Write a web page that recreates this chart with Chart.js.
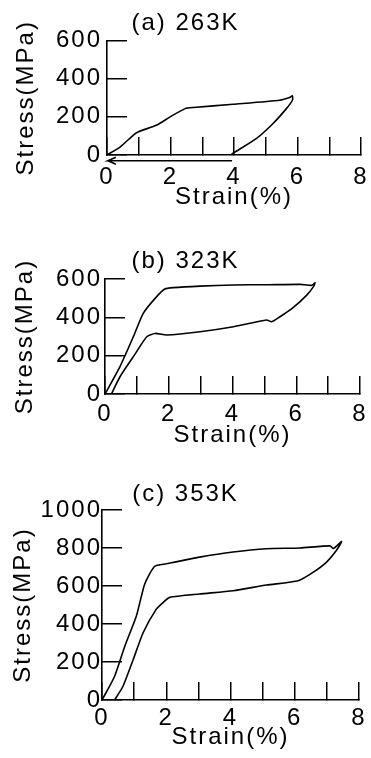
<!DOCTYPE html>
<html>
<head>
<meta charset="utf-8">
<script src="https://cdn.jsdelivr.net/npm/chart.js@4"></script>
<style>
  html, body { margin: 0; padding: 0; background: #fff; }
  .panel { position: absolute; left: 0; width: 371px; }
</style>
</head>
<body>
<div class="panel" style="top:0;height:213px"><canvas id="chartA"></canvas></div>
<div class="panel" style="top:220px;height:231px"><canvas id="chartB"></canvas></div>
<div class="panel" style="top:460px;height:293px"><canvas id="chartC"></canvas></div>
<script>
// (a) 263K
var strainA = [0, 0.42, 0.84, 0.99, 1.57, 1.99, 2.46, 2.72, 3.97, 5.44, 5.75, 5.84, 5.84, 5.65, 5.23, 4.71, 3.97, 3.92];
var stressA = [0, 43, 106, 122, 157, 200, 243, 249, 266, 287, 301, 310, 287, 243, 165, 87, 9, 3];
// arrow back to zero strain
var arrowStrain = [3.94, 0.03, 0.28, 0.03, 0.28];
var arrowStress = [-30, -30, -12, -30, -48];

// (b) 323K
var strainB = [0, 0.47, 0.89, 1.2, 1.62, 1.88, 2.14, 2.98, 4.03, 5.07, 6.12, 6.49, 6.59,
               6.54, 6.33, 5.91, 5.49, 5.23, 5.07, 4.03, 2.98, 1.94, 1.57, 1.31, 0.89, 0.47, 0.21];
var stressB = [0, 143, 299, 421, 508, 548, 555, 563, 569, 570, 572, 567, 581,
               560, 516, 452, 403, 377, 386, 351, 325, 308, 316, 299, 195, 90, 3];

// (c) 353K
var strainC = [0, 0.39, 0.71, 1.07, 1.33, 1.64, 2.0, 3.04, 4.08, 5.12, 6.16, 7.1, 7.2, 7.46,
               7.3, 6.99, 6.58, 6.11, 5.12, 4.08, 3.04, 2.11, 1.9, 1.69, 1.28, 0.97, 0.65, 0.39];
var stressC = [0, 124, 283, 442, 611, 704, 717, 752, 779, 796, 800, 811, 797, 835,
               788, 726, 673, 628, 605, 575, 558, 540, 513, 478, 354, 212, 71, 0];

var strainTicks = [0, 2, 4, 6, 8];

Chart.defaults.font.family = 'Liberation Sans';
Chart.defaults.font.size = 24;
Chart.defaults.font.lineHeight = 1;
Chart.defaults.color = '#000';

function pts(xs, ys) {
  return xs.map(function(x, i) { return { x: x, y: ys[i] }; });
}

// wider letter spacing like the scanned figure
var spacing = {
  id: 'spacing',
  beforeDraw: function(chart) { chart.ctx.letterSpacing = '2px'; }
};

function makeChart(id, o) {
  var sets = [{
    data: pts(o.xs, o.ys),
    showLine: true,
    borderColor: '#000',
    borderWidth: 1.6,
    pointRadius: 0,
    tension: 0.2
  }];
  if (o.arrow) {
    sets.push({
      data: pts(arrowStrain, arrowStress),
      showLine: true,
      borderColor: '#000',
      borderWidth: 1.6,
      pointRadius: 0,
      clip: false
    });
  }
  return new Chart(document.getElementById(id), {
    type: 'scatter',
    data: { datasets: sets },
    plugins: [spacing],
    options: {
      responsive: true,
      maintainAspectRatio: false,
      animation: false,
      events: [],
      layout: { padding: 0 },
      plugins: {
        legend: { display: false },
        tooltip: { enabled: false },
        title: {
          display: true,
          text: o.title,
          color: '#000',
          font: { size: 24, weight: 'normal' },
          padding: { top: o.titleTop, bottom: o.titleBottom }
        }
      },
      scales: {
        x: {
          type: 'linear',
          min: 0, max: 8,
          grid: { drawOnChartArea: false, color: '#000', lineWidth: 1.5, tickLength: -18 },
          border: { color: '#000', width: 1.6 },
          ticks: {
            stepSize: 1,
            autoSkip: false,
            maxRotation: 0,
            padding: o.xPad,
            callback: function(v) { return strainTicks.indexOf(v) >= 0 ? String(v) : ''; }
          },
          title: { display: true, text: 'Strain(%)', padding: { top: 0, bottom: 4 } },
          afterFit: function(s) { s.height = o.xHeight; s.paddingLeft = 0; s.paddingRight = o.padRight; }
        },
        y: {
          min: 0, max: o.yMax,
          grid: { drawOnChartArea: false, color: '#000', lineWidth: 1.5, tickLength: -20 },
          border: { color: '#000', width: 1.6 },
          ticks: { stepSize: 200, padding: o.yPad, callback: function(v) { return String(v); } },
          title: { display: true, text: 'Stress(MPa)', padding: { top: o.yTitleTop, bottom: 0 } },
          afterFit: function(s) { s.width = o.yWidth; s.paddingTop = 0; s.paddingBottom = 0; }
        }
      }
    }
  });
}

makeChart('chartA', {
  xs: strainA, ys: stressA, arrow: true, title: '(a) 263K', yMax: 600,
  titleTop: 11, titleBottom: 5.5, xPad: 28, xHeight: 58, yPad: 25,
  yTitleTop: 14, yWidth: 107, padRight: 10
});
makeChart('chartB', {
  xs: strainB, ys: stressB, title: '(b) 323K', yMax: 600,
  titleTop: 29, titleBottom: 6, xPad: 26, xHeight: 57, yPad: 23,
  yTitleTop: 13, yWidth: 105, padRight: 11
});
makeChart('chartC', {
  xs: strainC, ys: stressC, title: '(c) 353K', yMax: 1000,
  titleTop: 22, titleBottom: 4, xPad: 24, xHeight: 53, yPad: 20,
  yTitleTop: 11.5, yWidth: 102, padRight: 12
});
</script>
</body>
</html>
